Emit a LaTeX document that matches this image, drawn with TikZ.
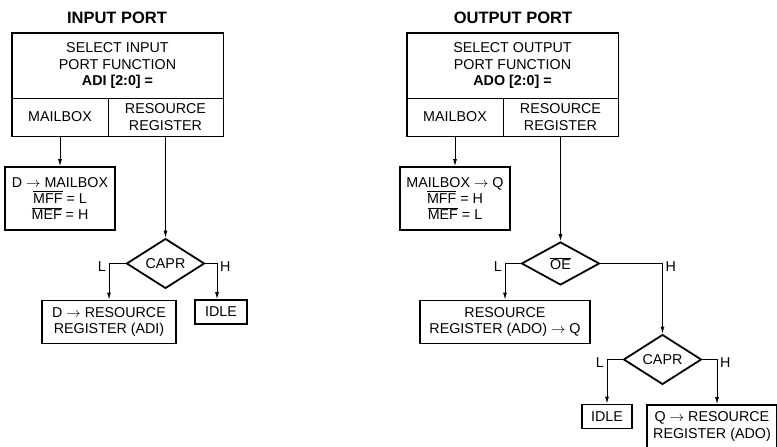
\documentclass[tikz,border=0pt]{standalone}
\usepackage{amsmath}
\usepackage{fontspec}
\setmainfont{Liberation Sans}
\usetikzlibrary{shapes.geometric,arrows.meta}

\begin{document}
\begin{tikzpicture}[x=1pt,y=1pt,yscale=-1,xscale=1,
    font=\fontsize{14.3}{16.3}\selectfont,
    cell/.style={draw, line width=0.8pt, inner sep=0pt, align=center},
    procbox/.style={draw, line width=1.8pt, inner sep=0pt, align=center},
    decide/.style={draw, diamond, line width=1.8pt, inner sep=0pt, minimum width=78pt, minimum height=43pt},
    flow/.style={line width=0.9pt, -{Latex[length=7pt,width=4pt]}},
    branch/.style={inner sep=0pt},
    heading/.style={font=\bfseries\fontsize{16.5}{18}\selectfont}]
    \useasboundingbox (0,0) rectangle (777,447);

    %% ---- input port ----
    % Text Node
    \node [heading] (ttlin) at (117,18) {INPUT PORT};
    % Select box
    \node [cell, draw=none, minimum width=211pt, minimum height=65pt] (selin) at (117.5,65.5) {SELECT INPUT\\PORT FUNCTION\\\textbf{ADI [2:0] =}};
    \node [cell, minimum width=96pt, minimum height=38pt] (mbin) at (60,117) {MAILBOX};
    \node [cell, minimum width=115pt, minimum height=38pt] (rrin) at (165.5,117) {RESOURCE\\REGISTER};
    \draw [line width=1.8pt] (selin.north west) rectangle (rrin.south east);
    % Process boxes
    \node [procbox, minimum width=110pt, minimum height=63pt] (mfin) at (60,198.5) {D $\rightarrow$ MAILBOX\\$\overline{\mbox{MFF}}$ = L\\$\overline{\mbox{MEF}}$ = H};
    \node [decide] (capin) at (165.5,263.5) {CAPR};
    \node [procbox, minimum width=134pt, minimum height=43pt] (drin) at (109,322) {D $\rightarrow$ RESOURCE\\REGISTER (ADI)};
    \node [procbox, minimum width=52pt, minimum height=24pt] (idlin) at (221,312) {IDLE};
    % Connection
    \draw [flow] (mbin.south) -- (mfin.north);
    \draw [flow] (rrin.south) -- (capin.north);
    \draw [flow] (capin.west) -| (drin.north);
    \draw [flow] (capin.east) -| ([xshift=-4pt]idlin.north);
    % Text Node
    \node [branch, anchor=north east] (lin) at ([xshift=-3pt,yshift=-2pt]capin.west -| drin.north) {L};
    \node [branch, anchor=north west] (hin) at ([xshift=-1pt,yshift=-2pt]capin.east -| idlin.north) {H};

    %% ---- output port ----
    % Text Node
    \node [heading] (ttlout) at (513,18) {OUTPUT PORT};
    % Select box
    \node [cell, draw=none, minimum width=211pt, minimum height=65pt] (selout) at (512.5,65.5) {SELECT OUTPUT\\PORT FUNCTION\\\textbf{ADO [2:0] =}};
    \node [cell, minimum width=96pt, minimum height=38pt] (mbout) at (455,117) {MAILBOX};
    \node [cell, minimum width=115pt, minimum height=38pt] (rrout) at (560.5,117) {RESOURCE\\REGISTER};
    \draw [line width=1.8pt] (selout.north west) rectangle (rrout.south east);
    % Process boxes
    \node [procbox, minimum width=110pt, minimum height=63pt] (mfout) at (455,198.5) {MAILBOX $\rightarrow$ Q\\$\overline{\mbox{MFF}}$ = H\\$\overline{\mbox{MEF}}$ = L};
    \node [decide] (oeout) at (560.5,263.5) {$\overline{\mbox{OE}}$};
    \node [procbox, minimum width=170pt, minimum height=43pt] (rrqout) at (505,322) {RESOURCE\\REGISTER (ADO) $\rightarrow$ Q};
    \node [decide] (capout) at (662.5,359.5) {CAPR};
    \node [procbox, minimum width=50pt, minimum height=24pt] (idlout) at (607,416.5) {IDLE};
    \node [procbox, minimum width=130pt, minimum height=43pt] (qrout) at (712,426.5) {Q $\rightarrow$ RESOURCE\\REGISTER (ADO)};
    % Connection
    \draw [flow] (mbout.south) -- (mfout.north);
    \draw [flow] (rrout.south) -- (oeout.north);
    \draw [flow] (oeout.west) -| (rrqout.north);
    \draw [flow] (oeout.east) -| (capout.north);
    \draw [flow] (capout.west) -| (idlout.north);
    \draw [flow] (capout.east) -| ([xshift=5pt]qrout.north);
    % Text Node
    \node [branch, anchor=north east] (lout) at ([xshift=-3pt,yshift=-2pt]oeout.west -| rrqout.north) {L};
    \node [branch, anchor=north west] (hout) at ([xshift=3pt,yshift=-2pt]oeout.east -| capout.north) {H};
    \node [branch, anchor=north east] (lcout) at ([xshift=-3pt,yshift=-2pt]capout.west -| idlout.north) {L};
    \node [branch, anchor=north west] (hcout) at ([xshift=8pt,yshift=-2pt]capout.east -| qrout.north) {H};
\end{tikzpicture}
\end{document}
